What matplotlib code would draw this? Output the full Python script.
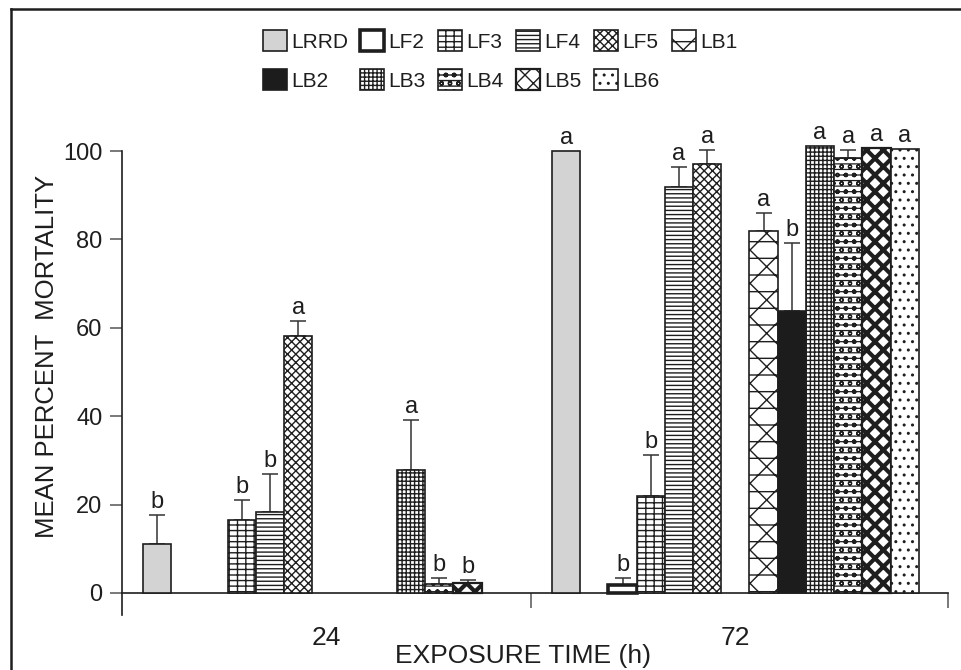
import numpy as np
import matplotlib
matplotlib.use("Agg")
import matplotlib.pyplot as plt
from matplotlib.lines import Line2D

# data
series = ["LRRD", "LF2", "LF3", "LF4", "LF5", "LB1", "LB2", "LB3", "LB4", "LB5", "LB6"]
times = ["24", "72"]

mean_24 = [11.0, np.nan, 16.6, 18.2, 58.1, np.nan, np.nan, 27.9, 2.0, 2.2, np.nan]
err_24 = [6.6, 0, 4.5, 8.7, 3.4, 0, 0, 11.2, 1.3, 0.7, 0]
mean_72 = [100.0, 1.9, 21.9, 91.8, 97.1, 81.9, 63.9, 101.1, 98.5, 100.6, 100.5]
err_72 = [0, 1.5, 9.3, 4.5, 3.1, 4.0, 15.2, 0, 1.7, 0, 0]
letters_24 = ["b", "", "b", "b", "a", "", "", "a", "b", "b", ""]
letters_72 = ["a", "b", "b", "a", "a", "a", "b", "a", "a", "a", "a"]

# fill / hatch for each series
faces = ["#d3d3d3", "white", "white", "white", "white", "white",
         "#1c1c1c", "white", "white", "white", "white"]
hatches = [None, None, "---||", "----", "xxxx", "x-", None, "++++", "oo---", "xx", ".."]
edge_lw = [1.2, 2.6, 1.2, 1.2, 1.2, 1.2, 1.2, 1.2, 1.2, 1.6, 1.2]
hatch_lw = [1.0, 1.0, 1.0, 1.0, 1.0, 1.0, 1.0, 1.0, 0.9, 3.0, 1.0]

ink = "#1e1e1e"
narrow = ["Liberation Sans Narrow", "Liberation Sans"]
plt.rcParams["font.family"] = ["Liberation Sans", "DejaVu Sans"]
plt.rcParams["text.color"] = ink
plt.rcParams["hatch.color"] = ink

fig = plt.figure(figsize=(9.61, 6.7), dpi=100)
ax = fig.add_axes([122 / 961, 55 / 670, 826 / 961, 464 / 670])

w = 0.069
x = np.arange(len(times))
means = np.array([mean_24, mean_72])
errs = np.array([err_24, err_72])
letters = [letters_24, letters_72]

handles = []
for i, name in enumerate(series):
    # one empty slot after LRRD and one after LF5
    slot = i + (i >= 1) + (i >= 5)
    xs = x + (slot - 6) * w
    bars = ax.bar(xs, means[:, i], width=w, color=faces[i], edgecolor=ink,
                  linewidth=edge_lw[i], hatch=hatches[i], label=name,
                  zorder=3, clip_on=False)
    for b in bars:
        try:
            b.set_hatch_linewidth(hatch_lw[i])
        except AttributeError:
            pass
    handles.append(bars)
    up = errs[:, i]
    has = up > 0
    if has.any():
        ax.errorbar(xs[has], means[has, i], yerr=[np.zeros(has.sum()), up[has]],
                    fmt="none", ecolor="#333333", elinewidth=1.1, capsize=6,
                    capthick=1.1, zorder=2, clip_on=False)
    for g in range(len(times)):
        if letters[g][i]:
            ax.annotate(letters[g][i], (xs[g], means[g, i] + up[g]),
                        xytext=(0, 1.5), textcoords="offset points",
                        ha="center", va="bottom", fontsize=17, color=ink,
                        annotation_clip=False)

ax.set_xlim(-0.5, 1.52)
ax.set_ylim(-5, 100)
ax.spines["top"].set_visible(False)
ax.spines["right"].set_visible(False)
ax.spines["bottom"].set_position(("data", 0))
for s in ("left", "bottom"):
    ax.spines[s].set_color(ink)
    ax.spines[s].set_linewidth(1.2)

ax.set_yticks([0, 20, 40, 60, 80, 100])
ax.tick_params(axis="y", length=9, width=1.1, color="#555555", pad=5,
               labelsize=17, labelcolor=ink)
ax.set_xticks(x)
ax.set_xticklabels(times, fontsize=19, color=ink, family=narrow)
ax.tick_params(axis="x", which="major", length=0, pad=24)
ax.set_xticks([0.5, 1.52], minor=True)
ax.tick_params(axis="x", which="minor", length=11, width=1.1, color="#555555")

fig.text(47 / 961, 1 - 356 / 670, "MEAN PERCENT  MORTALITY", rotation=90,
         ha="center", va="center", fontsize=18.5, color=ink)
fig.text(523 / 961, 1 - 656 / 670, "EXPOSURE TIME (h)", ha="center", va="center",
         fontsize=19, color=ink, family=narrow)

# legend filled column-wise, so interleave to get two rows of 6 and 5
order = [0, 6, 1, 7, 2, 8, 3, 9, 4, 10, 5]
leg = fig.legend([handles[k] for k in order], [series[k] for k in order],
                 ncol=6, loc="upper center", bbox_to_anchor=(500 / 961, 1 - 22 / 670),
                 frameon=False, fontsize=15, handlelength=1.15, handleheight=1.15,
                 handletextpad=0.2, columnspacing=0.6, labelspacing=0.85,
                 borderaxespad=0)

# outer frame: left and top edges
fig.add_artist(Line2D([11 / 961, 11 / 961], [0, 1 - 9 / 670], color=ink, lw=1.8))
fig.add_artist(Line2D([11 / 961, 1], [1 - 9 / 670, 1 - 9 / 670], color=ink, lw=1.8))

fig.savefig("out.png", dpi=100)
